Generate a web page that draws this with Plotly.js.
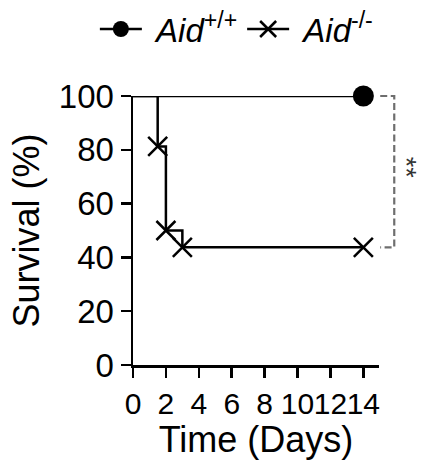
<!DOCTYPE html>
<html>
<head>
<meta charset="utf-8">
<script src="https://cdn.plot.ly/plotly-3.0.1.min.js"></script>
<style>
html,body{margin:0;padding:0;background:#fff;}
#chart{width:422px;height:465px;}
</style>
</head>
<body>
<div id="chart"></div>
<script>
// Data
const groupNames = ['\u00a0<i>Aid</i><sup>+/+</sup>', '\u00a0<i>Aid</i><sup>-/-</sup>'];
const wtDays = [0, 14];
const wtSurvival = [100, 100];
const wtMarkerDays = [14];
const wtMarkerSurvival = [100];
const koDays = [0, 1.5, 2, 3, 14];
const koSurvival = [100, 81.25, 50, 43.75, 43.75];
const koMarkerDays = [1.5, 2, 3, 14];
const koMarkerSurvival = [81.25, 50, 43.75, 43.75];
const xTicks = [0, 2, 4, 6, 8, 10, 12, 14];
const yTicks = [0, 20, 40, 60, 80, 100];
const significance = '**';

const FONT = 'Liberation Sans, Arial, sans-serif';
const LW = 2.5;

const traces = [
  {x: wtDays, y: wtSurvival, mode: 'lines', line: {shape: 'hv', color: '#000', width: LW}, showlegend: false, cliponaxis: false, hoverinfo: 'skip'},
  {x: wtMarkerDays, y: wtMarkerSurvival, mode: 'markers', marker: {symbol: 'circle', size: 21, color: '#000'}, showlegend: false, cliponaxis: false},
  {x: koDays, y: koSurvival, mode: 'lines', line: {shape: 'hv', color: '#000', width: LW}, showlegend: false, cliponaxis: false, hoverinfo: 'skip'},
  {x: koMarkerDays, y: koMarkerSurvival, mode: 'markers', marker: {symbol: 'x-thin', size: 19, color: '#000', line: {color: '#000', width: 2.5}}, showlegend: false, cliponaxis: false},
  // legend entries
  {x: [null], y: [null], name: groupNames[0], mode: 'lines+markers', line: {color: '#000', width: LW}, marker: {symbol: 'circle', size: 21, color: '#000'}},
  {x: [null], y: [null], name: groupNames[1], mode: 'lines+markers', line: {color: '#000', width: LW}, marker: {symbol: 'x-thin', size: 19, color: '#000', line: {color: '#000', width: 2.5}}}
];

const yTop = wtSurvival[wtSurvival.length - 1] / 100;
const yBot = koSurvival[koSurvival.length - 1] / 100;

const layout = {
  width: 422, height: 465,
  margin: {l: 133, r: 43, t: 96, b: 100, autoexpand: false},
  paper_bgcolor: '#fff', plot_bgcolor: '#fff',
  font: {family: FONT, color: '#000'},
  showlegend: true,
  legend: {
    orientation: 'h', x: -0.155, y: 1.353, xanchor: 'left', yanchor: 'top',
    font: {family: FONT, size: 33, color: '#000'},
    itemwidth: 42, tracegroupgap: 0, bgcolor: 'rgba(0,0,0,0)'
  },
  xaxis: {
    range: [0, 14.95], tickmode: 'array', tickvals: xTicks, ticktext: xTicks.map(String),
    tickangle: 0, showgrid: false, zeroline: false, showline: true, linecolor: '#000', linewidth: 2.5,
    ticks: 'outside', ticklen: 10, tickwidth: 2.5, tickcolor: '#000',
    tickfont: {family: FONT, size: 30, color: '#000'},
    title: {text: 'Time (Days)', font: {family: FONT, size: 36, color: '#000'}, standoff: 4}
  },
  yaxis: {
    range: [0, 100], tickmode: 'array', tickvals: yTicks, ticktext: yTicks.map(String),
    showgrid: false, zeroline: false, showline: true, linecolor: '#000', linewidth: 2.5,
    ticks: 'outside', ticklen: 10, tickwidth: 2.5, tickcolor: '#000',
    tickfont: {family: FONT, size: 33, color: '#000'},
    title: {text: 'Survival (%)', font: {family: FONT, size: 36, color: '#000'}, standoff: 8}
  },
  shapes: [
    {type: 'path', xref: 'paper', yref: 'paper',
     path: `M 1.005 ${yTop} L 1.062 ${yTop} L 1.062 ${yBot} L 1.005 ${yBot}`,
     line: {color: '#6e6e6e', width: 2.2, dash: '7px,3.5px'}}
  ],
  annotations: [
    {xref: 'paper', yref: 'paper', x: 1.108, y: 0.735, text: significance, showarrow: false,
     textangle: 90, borderpad: 0, font: {family: FONT, size: 27, color: '#333'}, xanchor: 'center', yanchor: 'middle'}
  ]
};

Plotly.newPlot('chart', traces, layout, {staticPlot: true});
</script>
</body>
</html>
